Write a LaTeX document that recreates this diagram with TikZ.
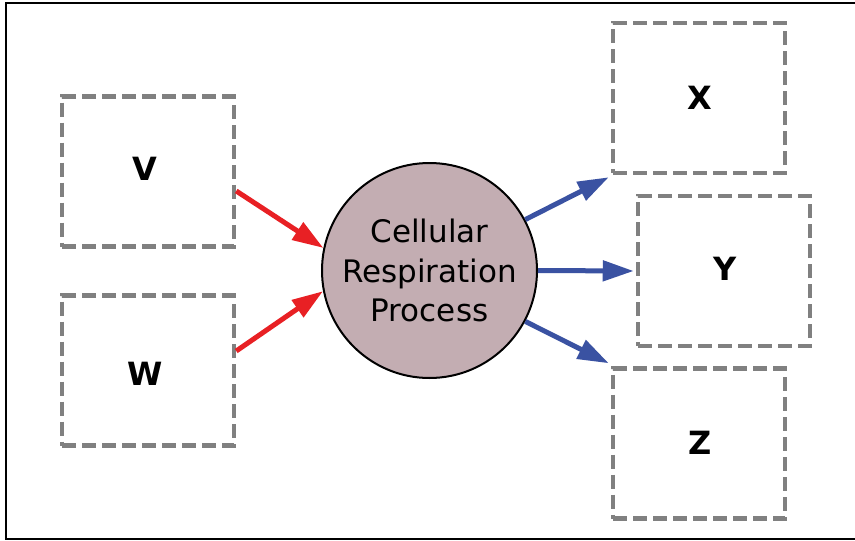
\documentclass[tikz,border=0pt]{standalone}
\usepackage{fontspec}
\setmainfont{DejaVu Sans}
\usetikzlibrary{arrows.meta}
\definecolor{boxgray}{RGB}{128,128,128}
\definecolor{procfill}{RGB}{195,173,178}
\definecolor{inred}{RGB}{232,32,36}
\definecolor{outblue}{RGB}{58,82,162}
\tikzset{
  dbox/.style={draw=boxgray, line width=4.5pt, dash pattern=on 14pt off 6pt, rectangle, minimum width=172pt, minimum height=150pt, inner sep=0pt},
  lbl/.style={font=\fontsize{32}{32}\selectfont\bfseries, inner sep=0pt},
  inarrow/.style={draw=inred, line width=5pt, -{Triangle[length=31pt,width=20pt]}},
  outarrow/.style={draw=outblue, line width=5pt, -{Triangle[length=31pt,width=20pt]}},
}
\begin{document}
\begin{tikzpicture}[x=1pt,y=-1pt]
\useasboundingbox (0,0) rectangle (855,541);
\draw[line width=2.5pt] (6,3) rectangle (860,539);
\node[dbox] (V) at (148,171.5) {};
\node[dbox] (W) at (148,370.5) {};
\node[dbox] (X) at (699,98) {};
\node[dbox] (Y) at (724,271) {};
\node[dbox] (Z) at (699,443.5) {};
\node[lbl] (Vl) at (145,169) {V};
\node[lbl] (Wl) at (145,374) {W};
\node[lbl] (Xl) at (700,98) {X};
\node[lbl] (Yl) at (725,269) {Y};
\node[lbl] (Zl) at (700,443) {Z};
\node[circle, draw=black, line width=2pt, fill=procfill, minimum size=215pt, inner sep=0pt, align=center,
      font=\fontsize{31}{39.5}\selectfont] (P) at (429.5,270.5) {Cellular\\Respiration\\Process};
\draw[inarrow] ([yshift=-19.5pt]V.east) -- (P.168.4);
\draw[inarrow] ([yshift=19.5pt]W.east) -- (P.191.7);
\draw[outarrow] (P.28) -- ([shift={(-2pt,-2pt)}]X.south west);
\draw[outarrow] (P.east) -- ([xshift=-2pt]Y.west);
\draw[outarrow] (P.-28) -- ([shift={(-2pt,3pt)}]Z.north west);
\end{tikzpicture}
\end{document}
